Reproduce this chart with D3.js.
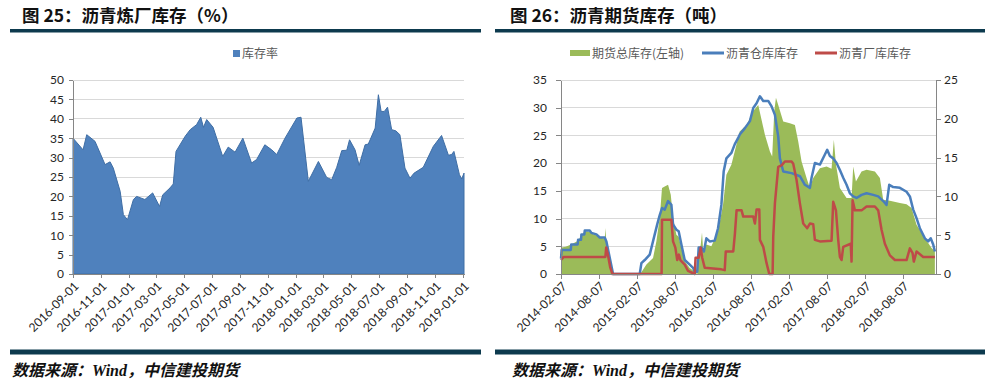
<!DOCTYPE html>
<html>
<head>
<meta charset="utf-8">
<script src="https://cdn.jsdelivr.net/npm/d3@7"></script>
<style>
  body { margin: 0; background: #fff; }
  svg { display: block; }
  .axis text { font-family: Lato, "Noto Sans", sans-serif; font-size: 12px; fill: #262626; }
  .axis path, .axis line { stroke: #868686; shape-rendering: crispEdges; }
  .grid line { stroke: #d9d9d9; shape-rendering: crispEdges; }
  .cjk { font-family: "Noto Sans CJK SC", sans-serif; }
</style>
</head>
<body>
<svg id="chart" width="989" height="384"></svg>
<script>
// ---- data ----
// 图25 库存率 (%)
var refineryRate = [
  ["2016-09-01",35.0],["2016-09-23",32.0],["2016-10-01",35.9],["2016-10-19",34.2],["2016-11-10",28.2],
  ["2016-11-21",28.9],["2016-11-28",27.3],["2016-12-13",21.3],["2016-12-20",15.3],["2016-12-29",14.0],
  ["2017-01-11",19.2],["2017-01-18",20.0],["2017-02-05",19.2],["2017-02-22",20.9],["2017-03-09",17.4],
  ["2017-03-16",20.4],["2017-04-01",22.2],["2017-04-08",23.2],["2017-04-14",31.6],["2017-05-04",35.5],
  ["2017-05-15",37.2],["2017-05-29",38.5],["2017-06-07",40.4],["2017-06-13",37.8],["2017-06-20",39.8],
  ["2017-07-04",37.8],["2017-07-25",30.3],["2017-08-06",32.7],["2017-08-21",31.4],["2017-09-07",35.0],
  ["2017-09-26",28.6],["2017-10-07",29.5],["2017-10-25",33.3],["2017-11-09",32.0],["2017-11-20",30.8],
  ["2017-12-08",35.0],["2018-01-03",40.2],["2018-01-12",40.4],["2018-01-28",23.9],["2018-02-19",29.0],
  ["2018-03-09",24.9],["2018-03-20",24.3],["2018-03-31",27.5],["2018-04-11",31.8],["2018-04-22",31.9],
  ["2018-04-28",34.6],["2018-05-10",32.0],["2018-05-19",28.0],["2018-06-01",33.3],["2018-06-08",33.5],
  ["2018-06-23",37.6],["2018-06-30",46.2],["2018-07-06",41.9],["2018-07-13",41.9],["2018-07-20",43.0],
  ["2018-07-29",37.2],["2018-08-07",36.9],["2018-08-16",35.9],["2018-08-27",27.3],["2018-09-07",24.7],
  ["2018-09-16",26.0],["2018-10-06",27.5],["2018-10-28",32.9],["2018-11-15",35.7],["2018-11-30",30.6],
  ["2018-12-07",30.8],["2018-12-12",31.6],["2018-12-24",25.6],["2018-12-29",24.5],["2019-01-03",26.0]
];
var leftTicksX = ["2016-09-01","2016-11-01","2017-01-01","2017-03-01","2017-05-01","2017-07-01","2017-09-01",
  "2017-11-01","2018-01-01","2018-03-01","2018-05-01","2018-07-01","2018-09-01","2018-11-01","2019-01-01"];
var leftTicksY = [0,5,10,15,20,25,30,35,40,45,50];

// 图26 期货总库存(左轴)
var futuresTotal = [
  ["2014-02-07",4.6],["2014-02-10",4.8],["2014-03-01",4.9],["2014-03-28",5.3],["2014-04-30",6.0],["2014-05-16",7.0],
  ["2014-06-01",7.7],["2014-06-25",7.6],["2014-07-10",7.2],["2014-08-01",6.9],["2014-08-20",6.5],["2014-09-05",6.4],
  ["2014-09-09",8.3],["2014-09-13",5.0],["2014-09-25",2.5],["2014-10-10",0],["2015-02-20",0],["2015-02-28",0.3],
  ["2015-03-24",1.7],["2015-04-25",2.9],["2015-05-11",5.9],["2015-05-27",10.1],["2015-06-07",15.5],["2015-06-20",15.8],
  ["2015-07-06",16.1],["2015-07-19",14.3],["2015-07-30",10.1],["2015-08-15",7.1],["2015-08-26",6.7],["2015-09-08",4.7],
  ["2015-09-24",2.3],["2015-10-18",1.1],["2015-11-08",0.5],["2015-11-23",0],["2015-12-03",4.0],["2015-12-10",5.3],
  ["2015-12-16",7.5],["2015-12-22",4.0],["2016-01-06",5.3],["2016-01-30",5.0],["2016-03-02",7.7],["2016-03-26",12.5],
  ["2016-04-11",17.9],["2016-05-05",19.7],["2016-05-21",22.1],["2016-06-14",25.7],["2016-07-17",26.9],["2016-08-18",29.4],
  ["2016-09-11",30.5],["2016-10-13",25.1],["2016-11-06",22.1],["2016-11-17",21.2],["2016-11-27",29.4],["2016-12-05",31.8],
  ["2016-12-16",30.5],["2017-01-09",27.5],["2017-02-10",27.2],["2017-03-06",26.9],["2017-03-22",23.9],["2017-04-07",20.3],
  ["2017-05-01",17.3],["2017-05-17",15.5],["2017-06-02",17.3],["2017-07-04",19.1],["2017-08-05",19.4],["2017-08-29",19.0],
  ["2017-09-09",24.2],["2017-09-19",19.8],["2017-10-08",15.5],["2017-11-09",13.7],["2017-12-03",13.7],["2017-12-11",19.4],
  ["2017-12-24",16.7],["2018-01-20",18.5],["2018-02-13",18.8],["2018-03-25",18.5],["2018-04-18",17.3],["2018-05-04",13.4],
  ["2018-06-05",13.2],["2018-07-23",12.8],["2018-08-24",12.6],["2018-09-17",11.9],["2018-10-11",8.9],["2018-11-20",6.5],
  ["2018-12-22",4.7],["2019-01-07",4.1]
];
// 沥青仓库库存 (右轴)
var warehouseStock = [
  ["2014-02-07",2.0],["2014-02-10",3.1],["2014-03-26",3.1],["2014-03-28",3.8],["2014-04-28",3.8],["2014-04-30",4.4],
  ["2014-05-14",4.4],["2014-05-16",5.1],["2014-05-30",5.1],["2014-06-01",5.6],["2014-06-25",5.6],["2014-07-03",5.3],
  ["2014-07-27",5.1],["2014-08-12",4.7],["2014-09-05",4.7],["2014-09-13",4.2],["2014-09-29",2.1],["2014-10-15",0],
  ["2015-02-20",0],["2015-02-28",1.4],["2015-03-16",1.8],["2015-04-09",2.5],["2015-05-03",5.1],["2015-05-15",6.4],
  ["2015-05-27",7.6],["2015-06-07",8.5],["2015-06-20",8.3],["2015-07-06",9.4],["2015-07-22",8.9],["2015-07-30",6.4],
  ["2015-08-15",5.7],["2015-08-26",5.5],["2015-09-08",3.8],["2015-09-24",1.8],["2015-10-18",1.2],["2015-11-03",0.8],
  ["2015-11-11",0.3],["2015-11-23",0.3],["2015-11-30",3.4],["2015-12-13",3.4],["2015-12-25",2.9],["2016-01-06",4.6],
  ["2016-01-22",4.2],["2016-02-15",4.3],["2016-03-02",5.9],["2016-03-18",8.9],["2016-03-29",13.2],["2016-04-11",14.9],
  ["2016-05-05",15.6],["2016-05-21",16.7],["2016-06-06",17.5],["2016-06-15",18.0],["2016-07-09",18.8],["2016-08-02",19.7],
  ["2016-08-18",21.4],["2016-09-03",22.0],["2016-09-19",22.9],["2016-10-05",22.3],["2016-10-29",22.3],["2016-11-14",21.6],
  ["2016-11-30",20.5],["2016-12-16",17.7],["2016-12-24",14.9],["2017-01-09",13.2],["2017-02-18",13.0],["2017-03-30",12.6],
  ["2017-04-23",11.5],["2017-05-17",11.1],["2017-05-25",12.4],["2017-06-10",14.3],["2017-07-04",14.1],["2017-07-28",15.4],
  ["2017-08-08",16.0],["2017-08-21",15.2],["2017-09-06",14.9],["2017-09-22",14.3],["2017-10-08",13.4],["2017-10-24",12.4],
  ["2017-11-09",11.5],["2017-11-25",10.4],["2017-12-11",10.0],["2017-12-27",9.8],["2018-01-20",10.2],["2018-02-13",10.4],
  ["2018-03-17",10.2],["2018-04-10",10.0],["2018-05-04",9.4],["2018-05-20",8.9],["2018-06-02",11.5],["2018-06-21",11.2],
  ["2018-07-23",11.1],["2018-08-24",10.6],["2018-09-09",10.0],["2018-09-25",8.3],["2018-10-11",7.2],["2018-10-27",5.9],
  ["2018-11-20",4.6],["2018-12-06",4.2],["2018-12-18",4.6],["2018-12-30",3.8],["2019-01-07",2.9]
];
// 沥青厂库库存 (右轴)
var factoryStock = [
  ["2014-02-07",1.8],["2014-02-20",2.2],["2014-09-08",2.2],["2014-09-12",3.4],["2014-09-20",2.5],["2014-10-01",0.9],
  ["2014-10-12",0],["2015-06-05",0],["2015-06-07",7.0],["2015-07-22",7.0],["2015-07-30",4.2],["2015-08-10",3.4],
  ["2015-08-19",1.8],["2015-08-27",2.5],["2015-09-03",1.8],["2015-09-24",1.2],["2015-10-10",0.4],["2015-11-11",0],
  ["2015-11-15",2.1],["2015-11-30",2.1],["2015-12-10",3.4],["2015-12-17",2.1],["2015-12-29",0.8],["2016-03-18",0.6],
  ["2016-04-03",0.5],["2016-04-08",2.9],["2016-05-14",2.9],["2016-05-22",5.2],["2016-05-30",8.2],["2016-06-23",8.2],
  ["2016-07-01",7.4],["2016-08-18",7.4],["2016-08-26",6.5],["2016-09-03",8.3],["2016-09-16",8.3],["2016-09-19",4.4],
  ["2016-10-05",3.5],["2016-10-21",1.4],["2016-11-03",0],["2016-11-19",0],["2016-11-22",4.8],["2016-11-30",9.1],
  ["2016-12-16",13.8],["2017-01-01",14.0],["2017-01-17",14.5],["2017-02-18",14.5],["2017-02-26",14.2],["2017-03-14",12.1],
  ["2017-03-30",9.1],["2017-04-15",6.5],["2017-05-04",5.9],["2017-05-17",6.5],["2017-06-02",6.4],["2017-06-10",4.4],
  ["2017-07-04",4.2],["2017-08-29",4.3],["2017-09-06",9.3],["2017-09-19",8.2],["2017-09-30",4.4],["2017-10-08",2.2],
  ["2017-10-16",1.8],["2017-10-24",3.5],["2017-11-29",3.9],["2017-12-03",1.6],["2017-12-08",9.5],["2017-12-19",8.2],
  ["2018-01-20",8.2],["2018-02-13",8.7],["2018-03-25",8.7],["2018-04-10",8.2],["2018-04-26",5.7],["2018-05-12",3.9],
  ["2018-06-05",2.4],["2018-06-29",1.8],["2018-08-24",1.8],["2018-09-09",3.3],["2018-09-22",2.7],["2018-09-28",1.6],
  ["2018-10-11",2.9],["2018-11-12",2.2],["2019-01-07",2.2]
];
var rightTicksX = ["2014-02-07","2014-08-07","2015-02-07","2015-08-07","2016-02-07","2016-08-07",
  "2017-02-07","2017-08-07","2018-02-07","2018-08-07"];
var rightTicksYL = [0,5,10,15,20,25,30,35];
var rightTicksYR = [0,5,10,15,20,25];

var parse = d3.timeParse("%Y-%m-%d");
var fmt = d3.timeFormat("%Y-%m-%d");
var svg = d3.select("#chart");

// ---- frame: titles, bars, source ----
function frame(x0, x1, titleX, srcX, title) {
  svg.append("text").attr("class", "cjk").attr("x", titleX).attr("y", 22)
    .attr("font-size", 17.5).attr("font-weight", 700).attr("fill", "#111").text(title);
  svg.append("rect").attr("x", x0).attr("y", 29).attr("width", x1 - x0).attr("height", 3.5).attr("fill", "#0d3a4e");
  svg.append("rect").attr("x", x0).attr("y", 349.5).attr("width", x1 - x0).attr("height", 5).attr("fill", "#0d3a4e");
  var src = svg.append("text").attr("x", srcX).attr("y", 376).attr("font-size", 16)
    .attr("font-weight", 700).attr("font-style", "italic").attr("fill", "#111");
  src.append("tspan").attr("class", "cjk").text("数据来源：");
  src.append("tspan").attr("font-family", "'Liberation Serif', serif").text("Wind");
  src.append("tspan").attr("class", "cjk").text("，中信建投期货");
}
frame(10, 481, 22, 12, "图 25：沥青炼厂库存（%）");
frame(495, 985, 510, 512, "图 26：沥青期货库存（吨）");

function rotateLabels(g) {
  g.selectAll("text")
    .attr("x", 0).attr("y", 0).attr("dy", "0.35em")
    .attr("text-anchor", "end")
    .attr("transform", "translate(3,10) rotate(-45)");
}

// ---- 图25 ----
(function(){
  var top = 80, bottom = 274, left = 73, right = 464;
  var x = d3.scaleTime().domain([parse("2016-09-01"), parse("2019-01-03")]).range([left, right]);
  var y = d3.scaleLinear().domain([0, 50]).range([bottom, top]);

  svg.append("g").attr("class", "grid").selectAll("line")
    .data(leftTicksY.filter(function(d){ return d > 0; }))
    .enter().append("line")
    .attr("x1", left).attr("x2", right).attr("y1", function(d){ return y(d); }).attr("y2", function(d){ return y(d); });

  var area = d3.area()
    .x(function(d){ return x(parse(d[0])); })
    .y0(bottom)
    .y1(function(d){ return y(d[1]); });
  svg.append("path").datum(refineryRate).attr("d", area)
    .attr("fill", "#4f81bd").attr("stroke", "#3f6ea5").attr("stroke-width", 1);

  svg.append("g").attr("class", "axis").attr("transform", "translate(" + left + ",0)")
    .call(d3.axisLeft(y).tickValues(leftTicksY).tickSize(4).tickSizeOuter(0).tickPadding(5));
  svg.append("g").attr("class", "axis").attr("transform", "translate(0," + bottom + ")")
    .call(d3.axisBottom(x).tickValues(leftTicksX.map(parse)).tickFormat(fmt).tickSize(4).tickSizeOuter(0))
    .call(rotateLabels);

  var lg = svg.append("g");
  lg.append("rect").attr("x", 233).attr("y", 50).attr("width", 7).attr("height", 7).attr("fill", "#4f81bd");
  lg.append("text").attr("class", "cjk").attr("x", 242).attr("y", 58).attr("font-size", 12)
    .attr("fill", "#595959").text("库存率");
})();

// ---- 图26 ----
(function(){
  var top = 80, bottom = 274, left = 561, right = 936;
  var x = d3.scaleTime().domain([parse("2014-02-07"), parse("2018-08-07")]).range([left, 903]);
  var yL = d3.scaleLinear().domain([0, 35]).range([bottom, top]);
  var yR = d3.scaleLinear().domain([0, 25]).range([bottom, top]);

  svg.append("g").attr("class", "grid").selectAll("line")
    .data(rightTicksYL.filter(function(d){ return d > 0; }))
    .enter().append("line")
    .attr("x1", left).attr("x2", right).attr("y1", function(d){ return yL(d); }).attr("y2", function(d){ return yL(d); });

  var area = d3.area()
    .x(function(d){ return x(parse(d[0])); })
    .y0(bottom)
    .y1(function(d){ return yL(d[1]); });
  svg.append("path").datum(futuresTotal).attr("d", area).attr("fill", "#9bbb59");

  var line = d3.line()
    .x(function(d){ return x(parse(d[0])); })
    .y(function(d){ return yR(d[1]); });
  svg.append("path").datum(warehouseStock).attr("d", line)
    .attr("fill", "none").attr("stroke", "#4a7ebb").attr("stroke-width", 2.5).attr("stroke-linejoin", "round");
  svg.append("path").datum(factoryStock).attr("d", line)
    .attr("fill", "none").attr("stroke", "#be4b48").attr("stroke-width", 2.5).attr("stroke-linejoin", "round");

  svg.append("g").attr("class", "axis").attr("transform", "translate(" + left + ",0)")
    .call(d3.axisLeft(yL).tickValues(rightTicksYL).tickSize(5).tickSizeOuter(0).tickPadding(9));
  svg.append("g").attr("class", "axis").attr("transform", "translate(" + right + ",0)")
    .call(d3.axisRight(yR).tickValues(rightTicksYR).tickSize(5).tickSizeOuter(0).tickPadding(3));
  var xa = svg.append("g").attr("class", "axis").attr("transform", "translate(0," + bottom + ")")
    .call(d3.axisBottom(x).tickValues(rightTicksX.map(parse)).tickFormat(fmt).tickSize(5).tickSizeOuter(0))
    .call(rotateLabels);
  xa.select(".domain").attr("d", "M" + left + ",0.5H" + right);

  var lg = svg.append("g");
  lg.append("rect").attr("x", 570).attr("y", 50).attr("width", 20).attr("height", 6).attr("fill", "#9bbb59");
  lg.append("text").attr("class", "cjk").attr("x", 592).attr("y", 58).attr("font-size", 12).attr("fill", "#595959").text("期货总库存(左轴)");
  lg.append("line").attr("x1", 702).attr("x2", 724).attr("y1", 53).attr("y2", 53).attr("stroke", "#4a7ebb").attr("stroke-width", 3);
  lg.append("text").attr("class", "cjk").attr("x", 726).attr("y", 58).attr("font-size", 12).attr("fill", "#595959").text("沥青仓库库存");
  lg.append("line").attr("x1", 815).attr("x2", 837).attr("y1", 53).attr("y2", 53).attr("stroke", "#be4b48").attr("stroke-width", 3);
  lg.append("text").attr("class", "cjk").attr("x", 839).attr("y", 58).attr("font-size", 12).attr("fill", "#595959").text("沥青厂库库存");
})();
</script>
</body>
</html>
